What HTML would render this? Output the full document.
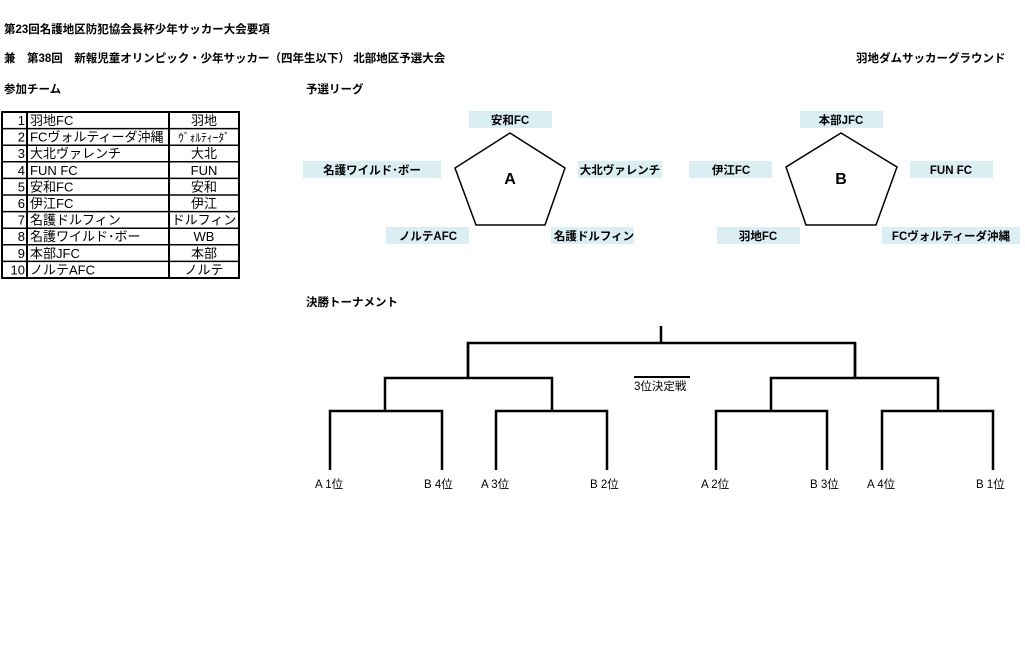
<!DOCTYPE html>
<html><head><meta charset="utf-8"><style>
html,body{margin:0;padding:0;background:#fff;}
svg{display:block;}
text{font-family:"Liberation Sans","Noto Sans CJK JP",sans-serif;fill:#000;}
.b{font-weight:bold;font-size:11.5px;}
.t{font-size:13px;}
.l{font-size:11.5px;}
</style></head><body>
<svg width="1025" height="650" xmlns="http://www.w3.org/2000/svg">
<text class="b" x="4" y="33">第23回名護地区防犯協会長杯少年サッカー大会要項</text>
<text class="b" x="4" y="62">兼　第38回　新報児童オリンピック・少年サッカー（四年生以下）  北部地区予選大会</text>
<text class="b" x="856" y="62">羽地ダムサッカーグラウンド</text>
<text class="b" x="4" y="93">参加チーム</text>
<text class="b" x="306" y="93">予選リーグ</text>
<text class="b" x="306" y="306">決勝トーナメント</text>

<!-- table -->
<g stroke="#000" fill="none">
<rect x="2" y="112" width="237" height="166" stroke-width="2"/>
<line x1="27" y1="112" x2="27" y2="278" stroke-width="2"/>
<line x1="169" y1="112" x2="169" y2="278" stroke-width="2"/>
<g stroke-width="1.5">
<line x1="2" y1="128.6" x2="239" y2="128.6"/>
<line x1="2" y1="145.2" x2="239" y2="145.2"/>
<line x1="2" y1="161.8" x2="239" y2="161.8"/>
<line x1="2" y1="178.4" x2="239" y2="178.4"/>
<line x1="2" y1="195" x2="239" y2="195"/>
<line x1="2" y1="211.6" x2="239" y2="211.6"/>
<line x1="2" y1="228.2" x2="239" y2="228.2"/>
<line x1="2" y1="244.8" x2="239" y2="244.8"/>
<line x1="2" y1="261.4" x2="239" y2="261.4"/>
</g></g>
<g class="t">
<g text-anchor="end">
<text x="25" y="125">1</text><text x="25" y="141.6">2</text><text x="25" y="158.2">3</text><text x="25" y="174.8">4</text><text x="25" y="191.4">5</text><text x="25" y="208">6</text><text x="25" y="224.6">7</text><text x="25" y="241.2">8</text><text x="25" y="257.8">9</text><text x="25" y="274.4">10</text>
</g>
<text x="30" y="125">羽地FC</text><text x="30" y="141.6">FCヴォルティーダ沖縄</text><text x="30" y="158.2">大北ヴァレンチ</text><text x="30" y="174.8">FUN FC</text><text x="30" y="191.4">安和FC</text><text x="30" y="208">伊江FC</text><text x="30" y="224.6">名護ドルフィン</text><text x="30" y="241.2">名護ワイルド･ボー</text><text x="30" y="257.8">本部JFC</text><text x="30" y="274.4">ノルテAFC</text>
<g text-anchor="middle">
<text x="204" y="125">羽地</text><text x="204" y="141.6" font-size="11.5">ｳﾞｫﾙﾃｨｰﾀﾞ</text><text x="204" y="158.2">大北</text><text x="204" y="174.8">FUN</text><text x="204" y="191.4">安和</text><text x="204" y="208">伊江</text><text x="204" y="224.6">ドルフィン</text><text x="204" y="241.2">WB</text><text x="204" y="257.8">本部</text><text x="204" y="274.4">ノルテ</text>
</g></g>

<!-- label boxes -->
<g fill="#dbeef4">
<rect x="469" y="111" width="83" height="17"/>
<rect x="303" y="161" width="138" height="17"/>
<rect x="578" y="161" width="84" height="17"/>
<rect x="386" y="227" width="83" height="17"/>
<rect x="551" y="227" width="83" height="17"/>
<rect x="800" y="111" width="83" height="17"/>
<rect x="689" y="161" width="83" height="17"/>
<rect x="910" y="161" width="83" height="17"/>
<rect x="717" y="227" width="83" height="17"/>
<rect x="882" y="227" width="138" height="17"/>
</g>
<g class="b" text-anchor="middle">
<text x="510" y="124">安和FC</text>
<text x="372" y="174">名護ワイルド･ボー</text>
<text x="620" y="174">大北ヴァレンチ</text>
<text x="428" y="240">ノルテAFC</text>
<text x="594" y="240">名護ドルフィン</text>
<text x="841" y="124">本部JFC</text>
<text x="731" y="174">伊江FC</text>
<text x="951" y="174">FUN FC</text>
<text x="758" y="240">羽地FC</text>
<text x="951" y="240">FCヴォルティーダ沖縄</text>
</g>
<g fill="none" stroke="#000" stroke-width="1.5">
<polygon points="510,133 565,168 545,225 476,225 455,168"/>
<polygon points="841,133 897,167 876,225 806,225 786,167"/>
</g>
<text x="510" y="184" font-size="16" font-weight="bold" text-anchor="middle">A</text>
<text x="841" y="184" font-size="16" font-weight="bold" text-anchor="middle">B</text>

<!-- bracket -->
<g fill="none" stroke="#000" stroke-width="2.5">
<line x1="661" y1="326" x2="661" y2="343"/>
<polyline points="468,378 468,343 855,343 855,378"/>
<line x1="468" y1="378" x2="468" y2="378"/>
<polyline points="385,411 385,378 552,378 552,411"/>
<polyline points="771,411 771,378 938,378 938,411"/>
<line x1="468" y1="343" x2="468" y2="378"/>
<line x1="855" y1="343" x2="855" y2="378"/>
<polyline points="330,470 330,411 442,411 442,470"/>
<polyline points="496,470 496,411 607,411 607,470"/>
<polyline points="716,470 716,411 827,411 827,470"/>
<polyline points="882,470 882,411 993,411 993,470"/>
<line x1="634" y1="377" x2="690" y2="377" stroke-width="2"/>
</g>
<g class="l">
<text x="634" y="390">3位決定戦</text>
<text x="315" y="488">A 1位</text>
<text x="424" y="488">B 4位</text>
<text x="481" y="488">A 3位</text>
<text x="590" y="488">B 2位</text>
<text x="701" y="488">A 2位</text>
<text x="810" y="488">B 3位</text>
<text x="867" y="488">A 4位</text>
<text x="976" y="488">B 1位</text>
</g>
</svg>
</body></html>
